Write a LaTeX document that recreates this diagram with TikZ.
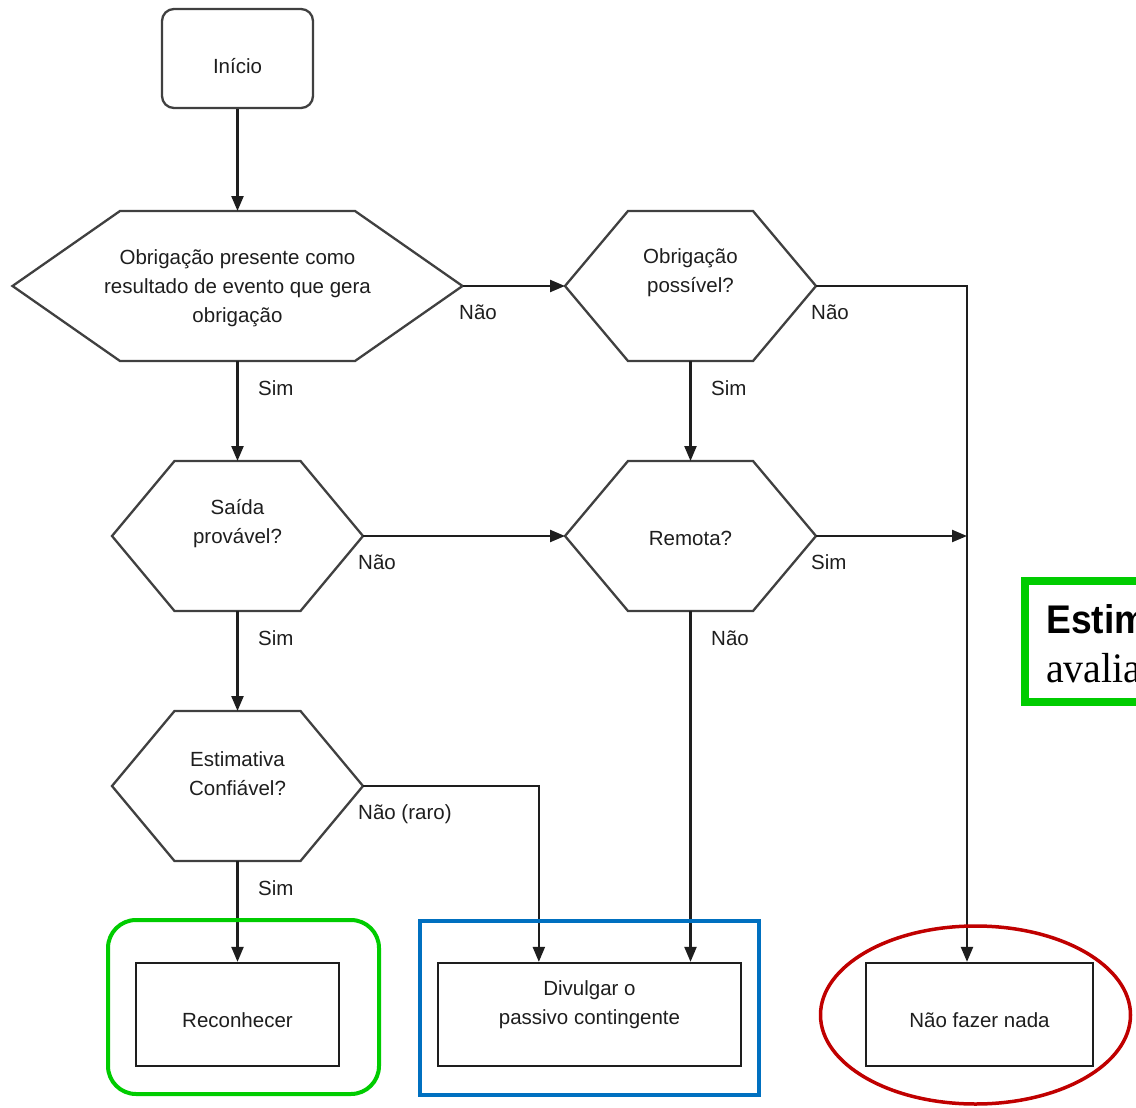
\documentclass[tikz,border=0pt]{standalone}
\usepackage{fontspec}
\setmainfont{Liberation Sans}
\newfontfamily\serifnote{Liberation Serif}
\usepackage{graphicx}
\usetikzlibrary{arrows.meta,calc}
\definecolor{hlgreen}{RGB}{0,204,0}
\definecolor{hlblue}{RGB}{0,112,192}
\definecolor{hlred}{RGB}{192,0,0}
\definecolor{ink}{RGB}{30,30,30}

\newcommand\hexshape[4]{%
  \coordinate (#1) at #2;
  \draw[hexline] (#1) ++(-#3,0) -- ++({#3-#4},-75) -- ++({2*#4},0) -- ++({#3-#4},75)
      -- ++({#4-#3},75) -- ++({-2*#4},0) -- cycle;
  \coordinate (#1e) at ($(#1)+(#3,0)$);
  \coordinate (#1w) at ($(#1)+(-#3,0)$);
  \coordinate (#1n) at ($(#1)+(0,-75)$);
  \coordinate (#1s) at ($(#1)+(0,75)$);
}

\begin{document}
\begin{tikzpicture}[x=1pt,y=-1pt,
  txt/.style={font=\fontsize{20.5}{29}\selectfont, text=ink, align=center, inner sep=0pt},
  lbl/.style={font=\fontsize{20.5}{29}\selectfont, text=ink, anchor=west, inner sep=0pt},
  hexline/.style={draw=ink!85, line width=2.3pt, line join=miter},
  flow/.style={draw=ink, line width=2.3pt, -{Triangle[length=15pt,width=12pt]}},
  procbox/.style={draw=ink, line width=2.3pt, minimum height=103pt, inner sep=0pt},
  startbox/.style={draw=ink!85, line width=2.3pt, rounded corners=12pt, minimum width=151pt, minimum height=99pt, inner sep=0pt},
]
\useasboundingbox (0,0) rectangle (1136,1108);
\clip (0,0) rectangle (1136,1108);
\fill[white] (0,0) rectangle (1136,1108);

% start
\node[startbox] (start) at (237.5,58.5) {};
\node[txt] (startt) at (237.5,66) {Início};

% hexagons
\hexshape{h1}{(237.5,286)}{225}{117.5}
\hexshape{h2}{(690.5,286)}{125.5}{62.5}
\hexshape{h3}{(237.5,536)}{125.5}{63}
\hexshape{h4}{(690.5,536)}{125.5}{62.5}
\hexshape{h5}{(237.5,786)}{125.5}{63}

\node[txt] (t1) at (237.5,288) {Obrigação presente como\\resultado de evento que gera\\obrigação};
\node[txt] (t2) at (690.5,273) {Obrigação\\possível?};
\node[txt] (t3) at (237.5,524) {Saída\\provável?};
\node[txt] (t4) at (690.5,538) {Remota?};
\node[txt] (t5) at (237.5,774) {Estimativa\\Confiável?};

% result boxes
\node[procbox, minimum width=203pt] (rec) at (237.5,1014.5) {};
\node[txt] (rect) at (237.5,1020) {Reconhecer};
\node[procbox, minimum width=303pt] (div) at (589.5,1014.5) {};
\node[txt] (divt) at (589.5,1005) {Divulgar o\\passivo contingente};
\node[procbox, minimum width=227pt] (nada) at (979.5,1014.5) {};
\node[txt] (nadat) at (979.5,1020) {Não fazer nada};

% connectors
\coordinate (j1) at (967,536);
\draw[flow] (start) -- (h1n);
\draw[flow] (h1e) -- (h2w);
\draw[flow] (h1s) -- (h3n);
\draw[flow] (h2s) -- (h4n);
\draw[flow] (h2e) -| (j1 |- nada.north);
\draw[flow] (h3e) -- (h4w);
\draw[flow] (h4e) -- (j1);
\draw[flow] (h3s) -- (h5n);
\draw[flow] (h4s) -- (h4s |- div.north);
\draw[flow] (h5e) -| ([xshift=102pt]div.north west);
\draw[flow] (h5s) -- (rec);

% labels
\node[lbl] (l1) at (459,312) {Não};
\node[lbl] (l2) at (811,312) {Não};
\node[lbl] (l3) at (258,388) {Sim};
\node[lbl] (l4) at (711,388) {Sim};
\node[lbl] (l5) at (358,562) {Não};
\node[lbl] (l6) at (811,562) {Sim};
\node[lbl] (l7) at (258,638) {Sim};
\node[lbl] (l8) at (711,638) {Não};
\node[lbl] (l9) at (358,814) {Não (raro)};
\node[lbl] (l10) at (258,888) {Sim};

% highlights
\draw[hlgreen, line width=4pt, rounded corners=28pt] (108,920) rectangle (379,1094);
\draw[hlblue, line width=4pt] (420,921) rectangle (759,1095);
\draw[hlred, line width=3.5pt] (975.5,1015) ellipse [x radius=155, y radius=89];

% cut-off note at right
\draw[hlgreen, line width=8pt] (1025,581) rectangle (1300,702);
\node[anchor=base west, inner sep=0pt, font=\fontsize{40}{40}\selectfont\bfseries] (noteA) at (1046,633) {\scalebox{0.93}[1]{Estimativa}};
\node[anchor=base west, inner sep=0pt, font=\serifnote\fontsize{42}{42}\selectfont] (noteB) at (1046,682) {\scalebox{0.95}[1]{avaliação}};
\end{tikzpicture}
\end{document}
